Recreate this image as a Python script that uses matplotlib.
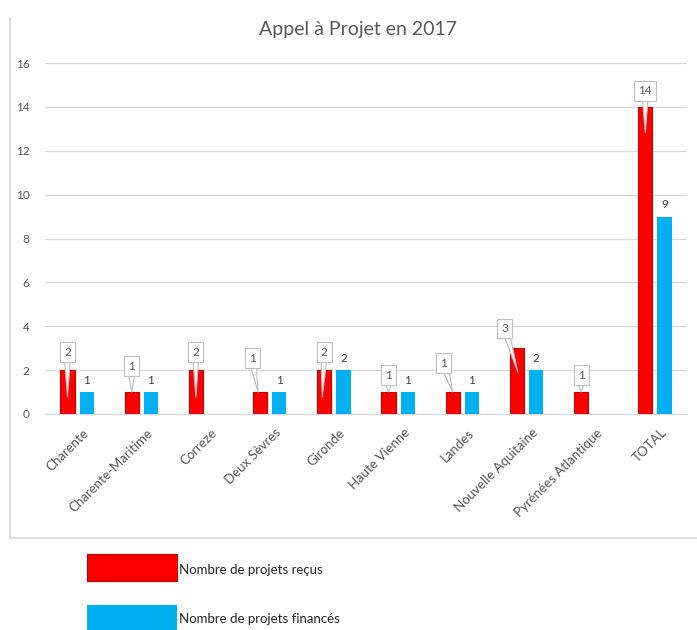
import numpy as np
import matplotlib
matplotlib.use("Agg")
import matplotlib.pyplot as plt
from matplotlib.patches import Rectangle
from matplotlib.lines import Line2D

# Data
categories = ["Charente", "Charente-Maritime", "Correze", "Deux Sèvres", "Gironde",
              "Haute Vienne", "Landes", "Nouvelle Aquitaine", "Pyrénées Atlantique", "TOTAL"]
projets_recus = [2, 1, 2, 1, 2, 1, 1, 3, 1, 14]
projets_finances = [1, 1, 0, 1, 2, 1, 1, 2, 0, 9]
y_ticks = [0, 2, 4, 6, 8, 10, 12, 14, 16]

title = "Appel à Projet en 2017"
label_recus = "Nombre de projets reçus"
label_finances = "Nombre de projets financés"

# Callout placement for the red labels (pixels): box offset from bar top, tip x shift, tip depth
callout_box = [(0, 18), (0, 26), (0, 18), (-8, 34), (0, 18), (0, 17), (-9, 29), (-12, 20), (0, 17), (0, 16)]
callout_tip = [(0, 27), (0, 0), (0, 27), (-2, 0), (-2, 27), (0, 0), (0, 0), (1, 24), (0, 0), (0, 26)]

plt.rcParams['font.family'] = ['Lato', 'DejaVu Sans']

RED = "#FF0000"
BLUE = "#00B0F0"
GRID = "#d9d9d9"
TXT = "#595959"

W, H = 697, 630
fig = plt.figure(figsize=(W / 100, H / 100), dpi=100)

# axes placed in pixel terms
left, right, top, bottom = 45, 687, 63, 414
ax = fig.add_axes([left / W, 1 - bottom / H, (right - left) / W, (bottom - top) / H])

x = np.arange(len(categories))
off = 0.15
width = 0.22
ax.bar(x - off, projets_recus, width, color=RED, edgecolor="#C00000", linewidth=0.8, zorder=3)
fin = np.array(projets_finances, dtype=float)
ax.bar(x + off, np.where(fin > 0, fin, np.nan), width, color=BLUE, linewidth=0, zorder=3)

ax.set_xlim(-0.5, len(categories) - 0.5)
ax.set_ylim(0, 16)
ax.set_yticks(y_ticks)
ax.yaxis.grid(True, color=GRID, linewidth=0.9, zorder=0)
ax.set_axisbelow(True)
for s in ["top", "right", "left"]:
    ax.spines[s].set_visible(False)
ax.spines["bottom"].set_color(GRID)
ax.spines["bottom"].set_linewidth(0.9)
ax.tick_params(length=0, labelsize=8.5, labelcolor=TXT)
ax.tick_params(axis="y", pad=11)
ax.set_xticks(x + 0.08)
ax.set_xticklabels(categories, rotation=45, ha="right", rotation_mode="anchor", fontsize=9.5, color=TXT)
ax.tick_params(axis="x", pad=9)

# pixel -> data scale
px_x = (len(categories)) / (right - left)
px_y = 16 / (bottom - top)

# red labels in callout boxes
for i, v in enumerate(projets_recus):
    bx, by = callout_box[i]
    tx, td = callout_tip[i]
    xr = x[i] - off
    ax.annotate(str(v), xy=(xr + tx * px_x, v - td * px_y),
                xytext=(xr + bx * px_x, v + by * px_y), textcoords="data",
                ha="center", va="center", fontsize=8.5, color=TXT, zorder=5,
                bbox=dict(boxstyle="square,pad=0.35", fc="white", ec="#bfbfbf", lw=0.8),
                arrowprops=dict(arrowstyle="wedge,tail_width=0.45,shrink_factor=0.5",
                                fc="white", ec="#bfbfbf", lw=0.8, shrinkA=0, shrinkB=0))

# blue labels plain
for i, v in enumerate(projets_finances):
    if v > 0:
        ax.annotate(str(v), xy=(x[i] + off, v), xytext=(0, 12), textcoords="offset pixels",
                    ha="center", va="center", fontsize=8.5, color="#404040", zorder=5)

fig.text(358 / W, 1 - 30 / H, title, ha="center", va="center", fontsize=14, color=TXT)

# chart area border (left and bottom visible)
fig.add_artist(Line2D([10 / W, 10 / W], [1 - 18 / H, 1 - 538 / H], color=GRID, lw=1.2))
fig.add_artist(Line2D([10 / W, 1], [1 - 538 / H, 1 - 538 / H], color=GRID, lw=1.2))

# legend below the chart area
fig.add_artist(Rectangle((87 / W, 1 - 581 / H), 90 / W, 27 / H, transform=fig.transFigure,
                         fc=RED, ec="#C00000", lw=0.8))
fig.add_artist(Rectangle((87 / W, 1 - 631 / H), 90 / W, 26 / H, transform=fig.transFigure,
                         fc=BLUE, ec="none"))
fig.text(179 / W, 1 - 570 / H, label_recus, ha="left", va="center", fontsize=9.5, color="#262626")
fig.text(179 / W, 1 - 619 / H, label_finances, ha="left", va="center", fontsize=9.5, color="#262626")

fig.savefig("out.png", dpi=100)
